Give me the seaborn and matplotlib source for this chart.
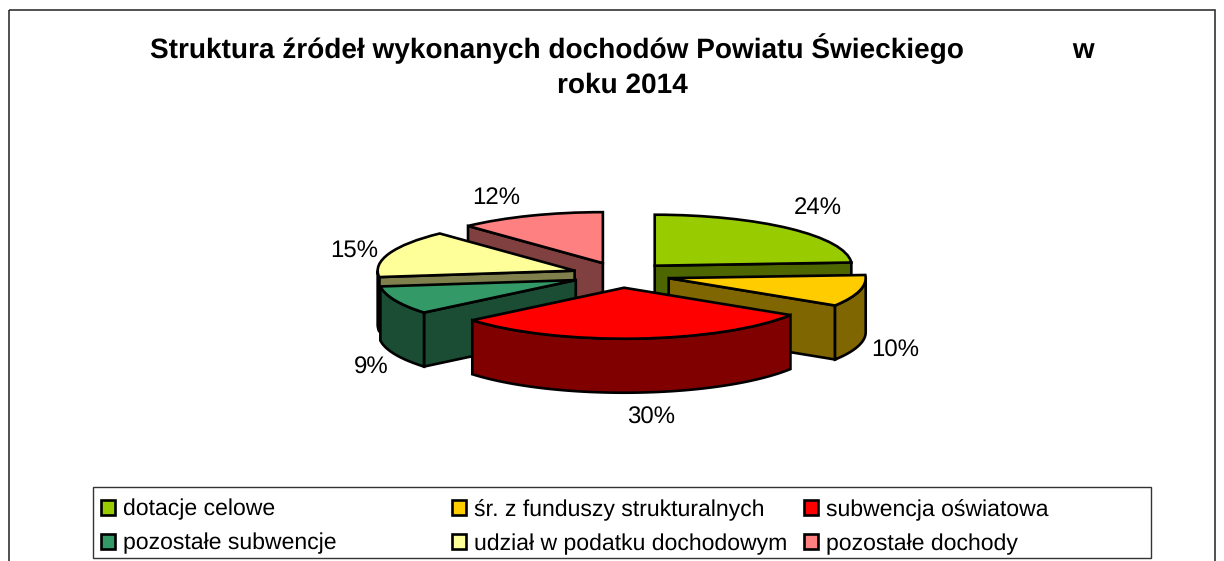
import numpy as np
import seaborn as sns
import matplotlib.pyplot as plt
from matplotlib.patches import Patch, Rectangle
from matplotlib.transforms import Affine2D

categories = ['dotacje celowe', 'śr. z funduszy strukturalnych', 'subwencja oświatowa',
              'pozostałe subwencje', 'udział w podatku dochodowym', 'pozostałe dochody']
values = [24, 10, 30, 9, 15, 12]
colors = ['#99CC00', '#FFCC00', '#FF0000', '#339966', '#FFFF99', '#FF8080']
title = 'Struktura źródeł wykonanych dochodów Powiatu Świeckiego' + ' ' * 14 + 'w\nroku 2014'

# where the percent labels sit, in pixels from top left
label_pos = [(818, 208), (895, 351), (651, 418), (371, 368), (354, 251), (496, 198)]

W, H = 1224, 561
cx, cy = 621, 275   # pie centre
rx, ry = 197, 51    # squashed radius
depth = 54 / ry
lw = 1.9

sns.set_theme(style='white', font='Liberation Sans', rc={'text.color': 'black', 'text.hinting': 'none',
                                                         'text.hinting_factor': 1})
palette = sns.color_palette(colors)

fig = plt.figure(figsize=(W / 100, H / 100), dpi=100)
ax = fig.add_axes([0, 0, 1, 1], zorder=3)
px = Affine2D().scale(1, -1).translate(0, H)

wedges, _ = ax.pie(values, colors=palette, startangle=90, counterclock=False,
                   explode=[0.25] * len(values),
                   wedgeprops={'linewidth': lw, 'edgecolor': 'black', 'joinstyle': 'miter'})
ax.set_aspect('auto')
ax.set_xlim(-cx / rx, (W - cx) / rx)
ax.set_ylim((cy - H) / ry, cy / ry)


def shade(c):
    return tuple(v * 0.5 for v in c)


def arc(w, a, b):
    t = np.radians(np.linspace(a, b, 60))
    return w.center[0] + np.cos(t), w.center[1] + np.sin(t)


# back to front so nearer slices cover the ones behind
for k, i in enumerate([5, 0, 4, 3, 1, 2]):
    w = wedges[i]
    z = 2 + k
    w.set_zorder(z + 0.5)
    style = dict(facecolor=shade(palette[i]), edgecolor='black', linewidth=lw, zorder=z,
                 joinstyle='miter')
    # flat cut faces that look towards the viewer
    faces = []
    if np.cos(np.radians(w.theta1)) > 1e-6:
        faces.append(w.theta1)
    if np.cos(np.radians(w.theta2)) < -1e-6:
        faces.append(w.theta2)
    for a in faces:
        ex, ey = w.center[0] + np.cos(np.radians(a)), w.center[1] + np.sin(np.radians(a))
        ax.fill([w.center[0], ex, ex, w.center[0]],
                [w.center[1], ey, ey - depth, w.center[1] - depth], **style)
    # rounded outer wall, front half only
    a, b = max(w.theta1, -180), min(w.theta2, 0)
    if a < b:
        x, y = arc(w, a, b)
        ax.fill(np.r_[x, x[::-1]], np.r_[y, y[::-1] - depth], **style)

for v, (x, y) in zip(values, label_pos):
    ax.text(x, y, f'{v}%', transform=px, fontsize=17.2, ha='center', va='center')

ax.text(622, 66, title, transform=px, fontsize=20.4, fontweight='bold', ha='center', va='center',
        linespacing=1.43)

# outer chart frame runs off the bottom of the picture
fig.add_artist(Rectangle((8.5, 10), 1206.5, 600, transform=px, fill=False,
                         edgecolor='#222222', linewidth=1.1))
fig.add_artist(Rectangle((93, 487), 1058, 71, transform=px, facecolor='white',
                         edgecolor='#333333', linewidth=1.0, zorder=2))

# three equal columns, filled row by row
for col, x0 in enumerate([101, 452, 804]):
    idx = [col, col + 3]
    handles = [Patch(facecolor=palette[i], edgecolor='black', linewidth=lw) for i in idx]
    leg = ax.legend(handles, [categories[i] for i in idx], loc='upper left',
                    bbox_to_anchor=(x0, 499), bbox_transform=px, frameon=False,
                    fontsize=16.8, borderpad=0, borderaxespad=0, handlelength=0.6,
                    handleheight=0.6, handletextpad=0.33, labelspacing=0.54)
    leg.set_zorder(20)
    if col < 2:  # the last one stays as the axes legend
        ax.add_artist(leg)

fig.savefig('out.png', dpi=100)
